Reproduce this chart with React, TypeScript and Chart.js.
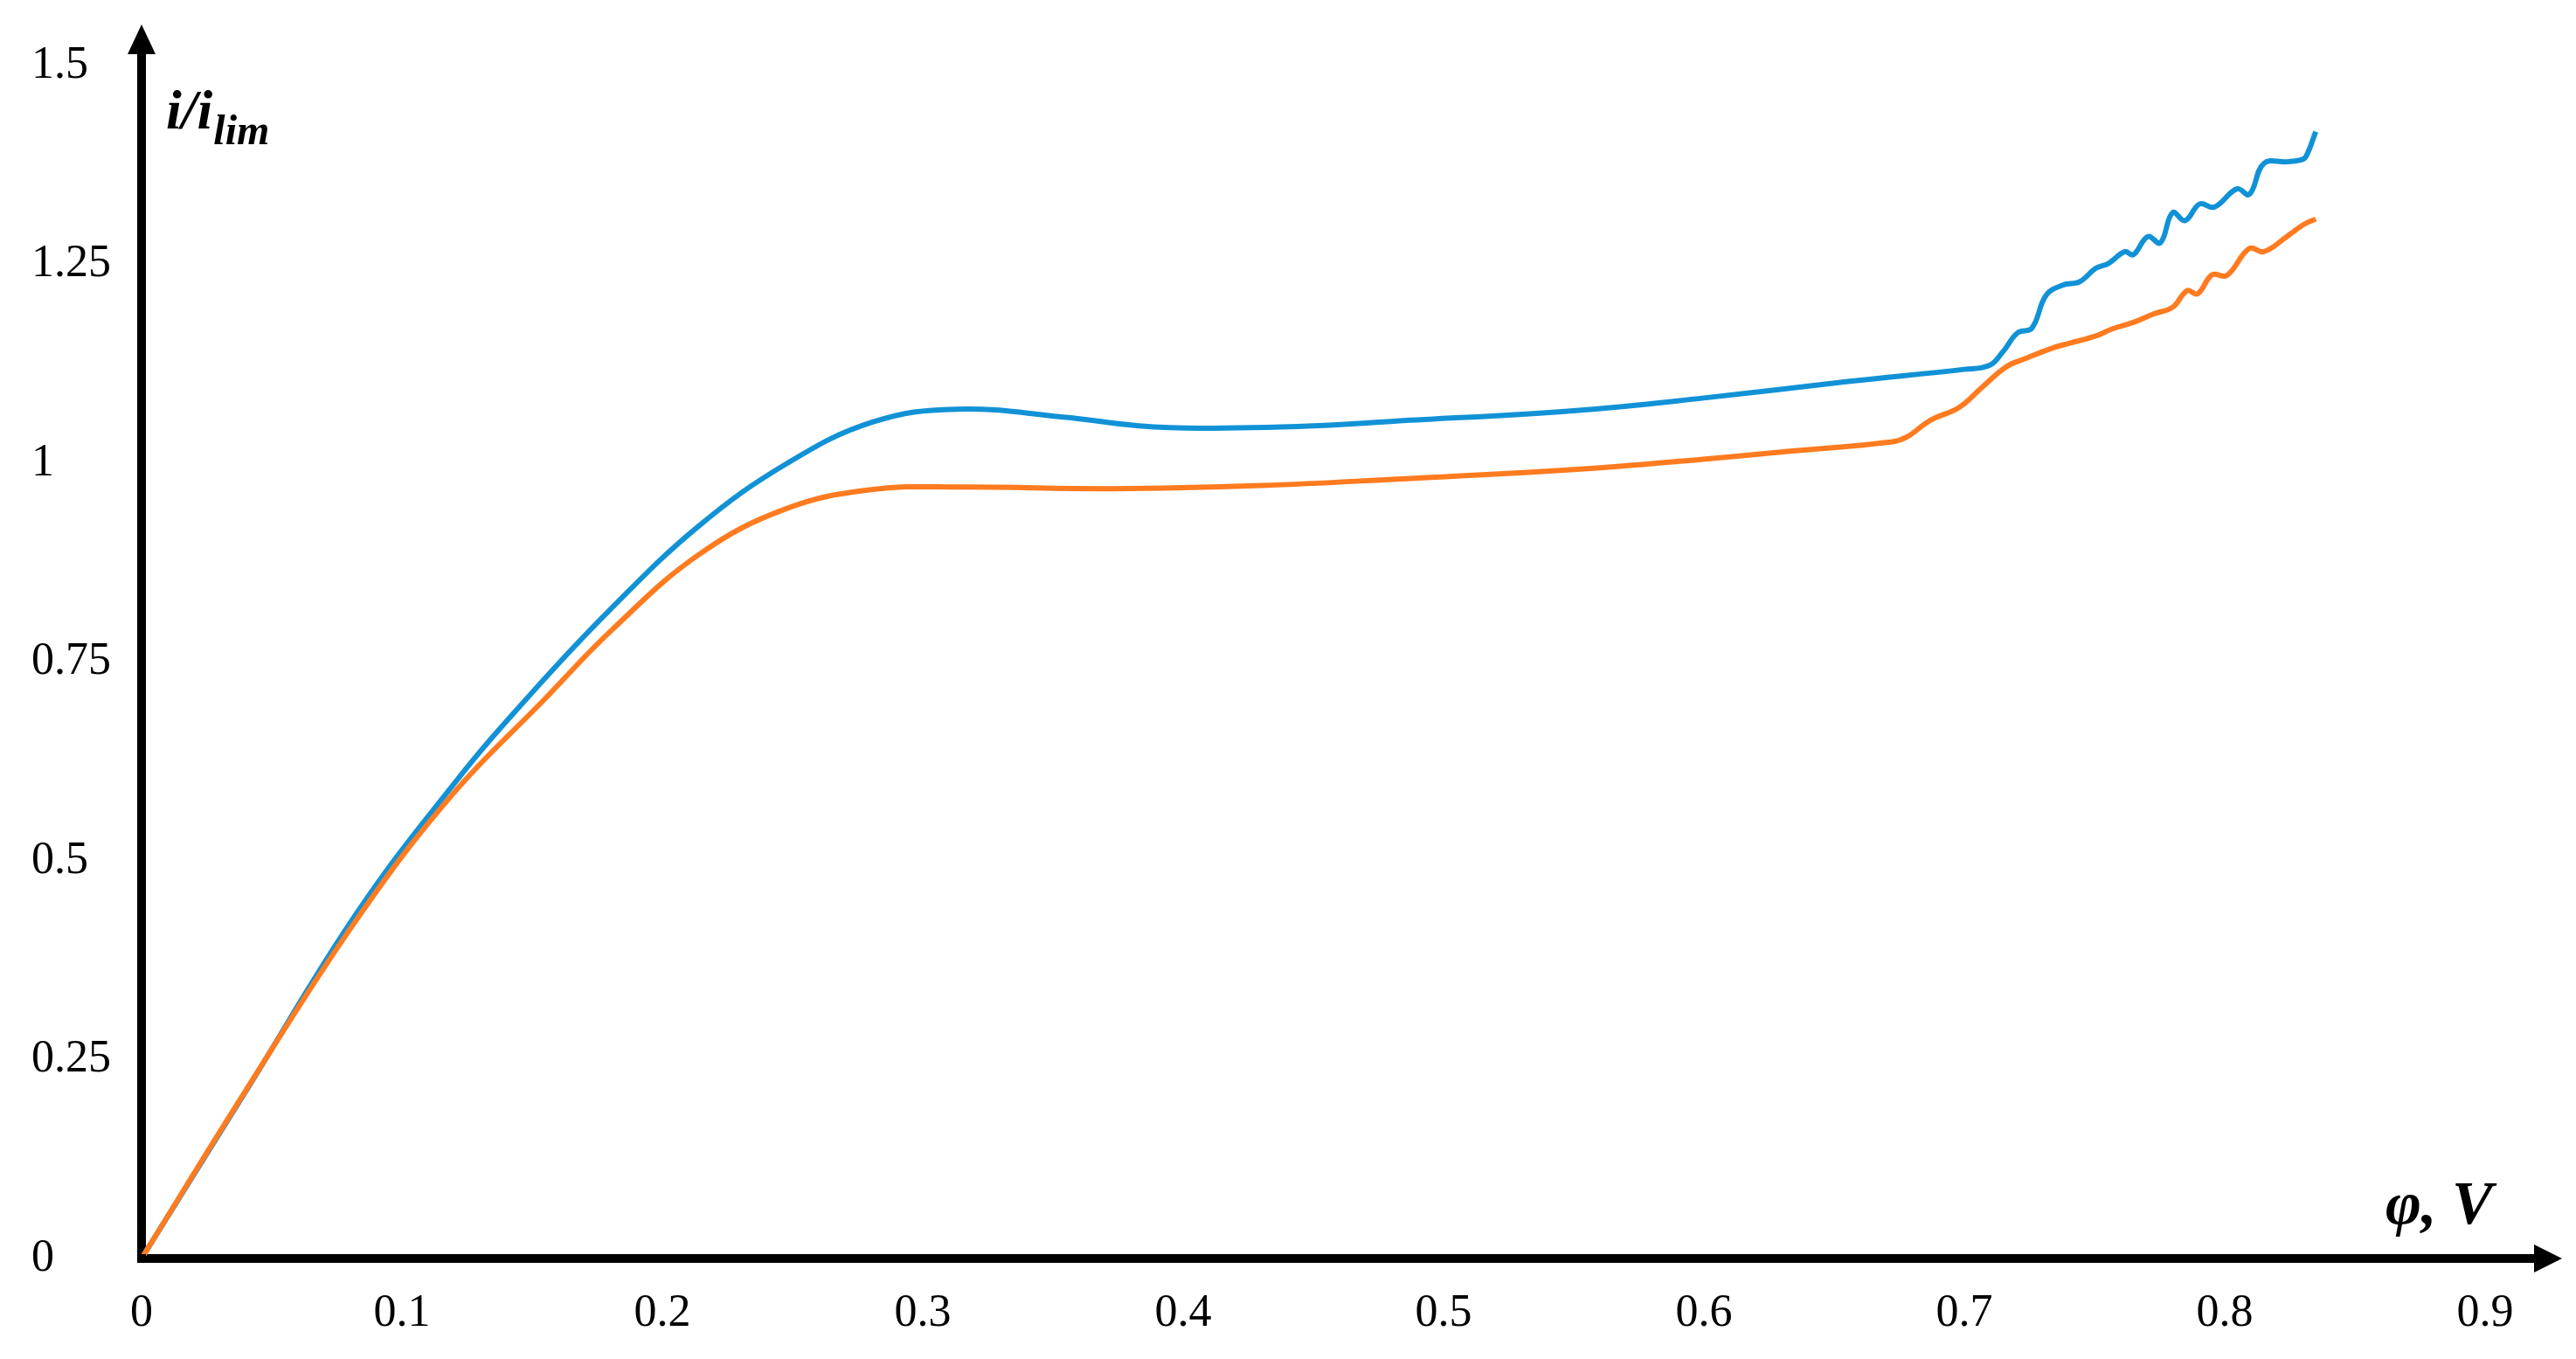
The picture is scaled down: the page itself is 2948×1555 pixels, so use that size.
import React, { useEffect, useRef } from 'react';
import { Chart, registerables } from 'chart.js';

Chart.register(...registerables);

// Series 1 (blue)
const blueX = [
  0, 0.04, 0.083, 0.121, 0.149, 0.18, 0.214, 0.248, 0.281, 0.313, 0.354, 0.383, 0.407,
  0.45, 0.482, 0.55, 0.6, 0.656, 0.7, 0.7097, 0.7148, 0.7205, 0.726, 0.7314, 0.7378, 0.7442,
  0.7505, 0.7553, 0.7617, 0.7649, 0.7705, 0.7753, 0.78, 0.7848, 0.7904, 0.796, 0.8047, 0.8095,
  0.8151, 0.8239, 0.8287, 0.8311, 0.835,
];
const blueY = [
  0, 0.21, 0.436, 0.601, 0.708, 0.816, 0.921, 1.0, 1.052, 1.068, 1.058, 1.047, 1.044,
  1.047, 1.053, 1.066, 1.082, 1.103, 1.118, 1.123, 1.14, 1.164, 1.17, 1.211, 1.224, 1.228,
  1.245, 1.251, 1.266, 1.262, 1.285, 1.277, 1.315, 1.305, 1.326, 1.322, 1.345, 1.338,
  1.377, 1.379, 1.381, 1.385, 1.417,
];

// Series 2 (orange)
const orangeX = [
  0, 0.0396, 0.0832, 0.119, 0.1547, 0.1805, 0.214, 0.2477, 0.281, 0.315, 0.373, 0.43, 0.482,
  0.55, 0.5997, 0.633, 0.6725, 0.678, 0.687, 0.698, 0.707, 0.716, 0.723, 0.734, 0.7406, 0.7505,
  0.7569, 0.7649, 0.7729, 0.78, 0.7856, 0.7896, 0.7952, 0.8008, 0.8095, 0.8151, 0.8239,
  0.8303, 0.835,
];
const orangeY = [
  0, 0.209, 0.429, 0.582, 0.703, 0.79, 0.885, 0.943, 0.967, 0.97, 0.968, 0.972, 0.98,
  0.992, 1.005, 1.015, 1.027, 1.033, 1.054, 1.07, 1.096, 1.121, 1.131, 1.145, 1.151, 1.16,
  1.169, 1.177, 1.188, 1.196, 1.217, 1.213, 1.237, 1.236, 1.27, 1.266, 1.285, 1.3, 1.307,
];

const xTickValues = [0, 0.1, 0.2, 0.3, 0.4, 0.5, 0.6, 0.7, 0.8, 0.9];
const yTickValues = [0, 0.25, 0.5, 0.75, 1, 1.25, 1.5];

const X_MAX = 0.9195;
const Y_MAX = 1.5165;

const SERIF = "'Liberation Serif', 'Times New Roman', serif";
const BLUE = '#1292D6';
const ORANGE = '#FF7B1F';

const fmt = (v: number | string) => String(Math.round(Number(v) * 100) / 100);

const axisDecor = {
  id: 'axisDecor',
  afterDraw(chart: any) {
    const { ctx, chartArea: a } = chart;
    ctx.save();
    ctx.fillStyle = '#000';
    ctx.fillRect(a.left - 5, a.bottom - 5, 10, 10);
    ctx.beginPath();
    ctx.moveTo(a.left, a.top - 32);
    ctx.lineTo(a.left - 16, a.top + 2);
    ctx.lineTo(a.left + 16, a.top + 2);
    ctx.closePath();
    ctx.fill();
    ctx.beginPath();
    ctx.moveTo(a.right + 30, a.bottom);
    ctx.lineTo(a.right - 2, a.bottom - 16);
    ctx.lineTo(a.right - 2, a.bottom + 16);
    ctx.closePath();
    ctx.fill();
    ctx.textBaseline = 'alphabetic';
    ctx.textAlign = 'left';
    ctx.font = `italic bold 64px ${SERIF}`;
    ctx.fillText('i/i', 190, 147);
    const w = ctx.measureText('i/i').width;
    ctx.font = `italic bold 48px ${SERIF}`;
    ctx.fillText('lim', 190 + w + 1, 165);
    ctx.font = `italic bold 70px ${SERIF}`;
    ctx.fillText('φ, V', 2730, 1400);
    ctx.restore();
  },
};

export default function App() {
  const canvasRef = useRef<HTMLCanvasElement | null>(null);

  useEffect(() => {
    const canvas = canvasRef.current;
    if (!canvas) return;
    const chart = new Chart(canvas, {
      type: 'line',
      data: {
        datasets: [
          {
            label: 'orange',
            data: orangeX.map((x, i) => ({ x, y: orangeY[i] })),
            borderColor: ORANGE,
            backgroundColor: ORANGE,
            borderWidth: 6,
            pointRadius: 0,
            fill: false,
            tension: 0.4,
          },
          {
            label: 'blue',
            data: blueX.map((x, i) => ({ x, y: blueY[i] })),
            borderColor: BLUE,
            backgroundColor: BLUE,
            borderWidth: 6,
            pointRadius: 0,
            fill: false,
            tension: 0.4,
          },
        ],
      },
      options: {
        responsive: false,
        animation: false,
        devicePixelRatio: 1,
        layout: { padding: { left: 36, top: 60, right: 46, bottom: 0 } },
        plugins: { legend: { display: false }, tooltip: { enabled: false } },
        scales: {
          x: {
            type: 'linear',
            min: 0,
            max: X_MAX,
            grid: { display: false, drawTicks: false, tickLength: 0 },
            border: { display: true, color: '#000', width: 10 },
            ticks: {
              color: '#000',
              font: { family: SERIF, size: 52 },
              padding: 32,
              maxRotation: 0,
              autoSkip: false,
              callback: (v: any) => fmt(v),
            },
            afterBuildTicks: (s: any) => {
              s.ticks = xTickValues.map((value) => ({ value }));
            },
            afterFit: (s: any) => {
              s.height = 115;
            },
          },
          y: {
            type: 'linear',
            min: 0,
            max: Y_MAX,
            grid: { display: false, drawTicks: false, tickLength: 0 },
            border: { display: true, color: '#000', width: 10 },
            ticks: {
              color: '#000',
              font: { family: SERIF, size: 52 },
              crossAlign: 'far',
              autoSkip: false,
              callback: (v: any) => fmt(v),
            },
            afterBuildTicks: (s: any) => {
              s.ticks = yTickValues.map((value) => ({ value }));
            },
            afterFit: (s: any) => {
              s.width = 126;
            },
          },
        },
      } as any,
      plugins: [axisDecor],
    });
    return () => chart.destroy();
  }, []);

  return (
    <div style={{ position: 'absolute', left: 0, top: 0, width: 2948, height: 1555, background: '#fff' }}>
      <canvas ref={canvasRef} width={2948} height={1555} style={{ width: 2948, height: 1555, display: 'block' }} />
    </div>
  );
}
